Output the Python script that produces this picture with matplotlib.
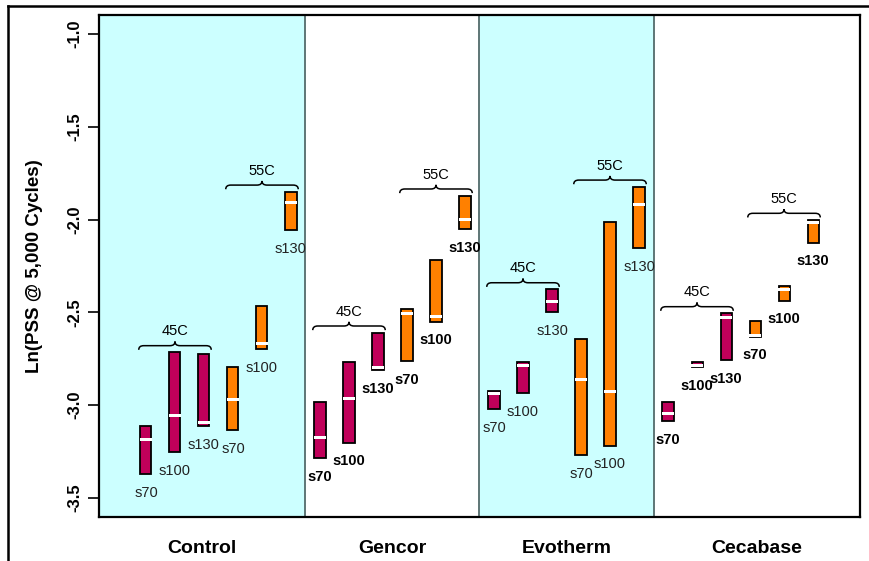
import matplotlib
matplotlib.use("Agg")
import matplotlib.pyplot as plt
from matplotlib.path import Path
from matplotlib.patches import PathPatch
from matplotlib.lines import Line2D
import matplotlib.transforms as mtransforms

plt.rcParams['font.family'] = ['Liberation Sans', 'DejaVu Sans']

# ---------------- data ----------------
groups = ['Control', 'Gencor', 'Evotherm', 'Cecabase']
bar_labels = ['s70', 's100', 's130', 's70', 's100', 's130']
temps = ['45C', '55C']
temp_of_bar = ['45C', '45C', '45C', '55C', '55C', '55C']

control_top = [-3.110, -2.715, -2.726, -2.793, -2.466, -1.850]
control_bottom = [-3.371, -3.251, -3.112, -3.134, -2.699, -2.056]
control_mid = [-3.182, -3.057, -3.094, -2.968, -2.666, -1.909]

gencor_top = [-2.981, -2.766, -2.609, -2.482, -2.218, -1.871]
gencor_bottom = [-3.286, -3.202, -2.810, -2.762, -2.550, -2.051]
gencor_mid = [-3.173, -2.963, -2.798, -2.505, -2.523, -1.998]

evotherm_top = [-2.922, -2.769, -2.376, -2.643, -2.011, -1.823]
evotherm_bottom = [-3.022, -2.936, -2.498, -3.268, -3.218, -2.153]
evotherm_mid = [-2.936, -2.787, -2.442, -2.864, -2.925, -1.921]

cecabase_top = [-2.984, -2.766, -2.505, -2.545, -2.356, -2.002]
cecabase_bottom = [-3.084, -2.796, -2.756, -2.631, -2.437, -2.124]
cecabase_mid = [-3.044, -2.787, -2.529, -2.622, -2.379, -2.017]

yticks = [-1.0, -1.5, -2.0, -2.5, -3.0, -3.5]
ylabel = 'Ln(PSS @ 5,000 Cycles)'

tops = [control_top, gencor_top, evotherm_top, cecabase_top]
bottoms = [control_bottom, gencor_bottom, evotherm_bottom, cecabase_bottom]
mids = [control_mid, gencor_mid, evotherm_mid, cecabase_mid]

# ---------------- style ----------------
MAGENTA = '#C0005A'
ORANGE = '#FF8000'
CYAN = '#CCFFFF'
temp_color = {'45C': MAGENTA, '55C': ORANGE}
shaded = {'Control': True, 'Gencor': False, 'Evotherm': True, 'Cecabase': False}
bold_labels = {'Control': False, 'Gencor': True, 'Evotherm': False, 'Cecabase': True}

W, H = 870, 561
fig = plt.figure(figsize=(W / 100, H / 100), dpi=100)
ax = fig.add_axes([99 / W, 1 - 517 / H, (860 - 99) / W, (517 - 15) / H])

n = len(bar_labels)
xmin, xmax = -1.62, len(groups) * n - 1 + 1.62
ymin, ymax = -3.602, -0.898
ax.set_xlim(xmin, xmax)
ax.set_ylim(ymin, ymax)

# panel backgrounds and dividers
bounds = [xmin] + [g * n - 0.5 for g in range(1, len(groups))] + [xmax]
for gi, g in enumerate(groups):
    if shaded[g]:
        ax.axvspan(bounds[gi], bounds[gi + 1], color=CYAN, zorder=0, lw=0)
for b in bounds[1:-1]:
    ax.axvline(b, color='#5E7676', lw=1.4, zorder=1)

px_per_x = ax.transData.transform((1, 0))[0] - ax.transData.transform((0, 0))[0]
px_per_y = ax.transData.transform((0, 1))[1] - ax.transData.transform((0, 0))[1]

bw = 0.38
mark_h = 3.0 / px_per_y


def brace(x1, x2, y0, h, r):
    xc = (x1 + x2) / 2
    ym = y0 + h / 2
    yt = y0 + h
    verts = [(x1, y0), (x1, ym), (x1 + r, ym),
             (xc - r, ym),
             (xc, ym), (xc, yt),
             (xc, ym), (xc + r, ym),
             (x2 - r, ym),
             (x2, ym), (x2, y0)]
    codes = [Path.MOVETO, Path.CURVE3, Path.CURVE3,
             Path.LINETO,
             Path.CURVE3, Path.CURVE3,
             Path.CURVE3, Path.CURVE3,
             Path.LINETO,
             Path.CURVE3, Path.CURVE3]
    return Path(verts, codes)


for gi, g in enumerate(groups):
    xs = [gi * n + i for i in range(n)]
    colors = [temp_color[t] for t in temp_of_bar]
    heights = [t - b for t, b in zip(tops[gi], bottoms[gi])]
    ax.bar(xs, heights, bottom=bottoms[gi], width=bw, color=colors,
           edgecolor='black', linewidth=1.3, zorder=3)
    for x, m in zip(xs, mids[gi]):
        ax.add_patch(plt.Rectangle((x - bw / 2 - 0.03, m - mark_h / 2), bw + 0.06, mark_h,
                                   facecolor='white', edgecolor='none', zorder=4))
    for x, b, lab in zip(xs, bottoms[gi], bar_labels):
        ax.annotate(lab, (x, b), xytext=(0, -18.7), textcoords='offset pixels',
                    ha='center', va='center', fontsize=10.5,
                    fontweight='bold' if bold_labels[g] else 'normal',
                    color='black' if bold_labels[g] else '#222222', zorder=5)
    # braces
    for ti, t in enumerate(temps):
        idx = [i for i in range(n) if temp_of_bar[i] == t]
        x1 = xs[idx[0]] - 0.25
        x2 = xs[idx[-1]] + 0.25
        ytop = max(tops[gi][i] for i in idx)
        y0 = ytop + 2.5 / px_per_y
        h = 8.3 / px_per_y
        r = 5.0 / px_per_x
        ax.add_patch(PathPatch(brace(x1, x2, y0, h, r), facecolor='none',
                               edgecolor='black', lw=1.1, zorder=5))
        ax.annotate(t, ((x1 + x2) / 2, y0), xytext=(0, 18.5), textcoords='offset pixels',
                    ha='center', va='center', fontsize=10.5, color='black', zorder=5)
    # group label
    ax.text((bounds[gi] + bounds[gi + 1]) / 2, -0.0618, g,
            transform=mtransforms.blended_transform_factory(ax.transData, ax.transAxes),
            ha='center', va='center', fontsize=14, fontweight='bold')

ax.set_xticks([])
ax.set_yticks(yticks)
ax.set_yticklabels([f'{v:.1f}' for v in yticks], rotation=90, va='center',
                   fontsize=12, fontweight='bold')
ax.tick_params(axis='y', length=8, width=1.2, pad=4, direction='out')
for s in ax.spines.values():
    s.set_linewidth(1.6)
    s.set_zorder(6)

ax.set_ylabel(ylabel, fontsize=13.5, fontweight='bold')
ax.yaxis.set_label_coords((43 - 99) / (860 - 99), 0.5)

# outer frame
fig.add_artist(Line2D([8 / W, 1], [1 - 5.5 / H, 1 - 5.5 / H], color='black', lw=1.8,
                      transform=fig.transFigure))
fig.add_artist(Line2D([8 / W, 8 / W], [0, 1 - 5.5 / H], color='black', lw=1.8,
                      transform=fig.transFigure))

fig.savefig('out.png', dpi=100)
